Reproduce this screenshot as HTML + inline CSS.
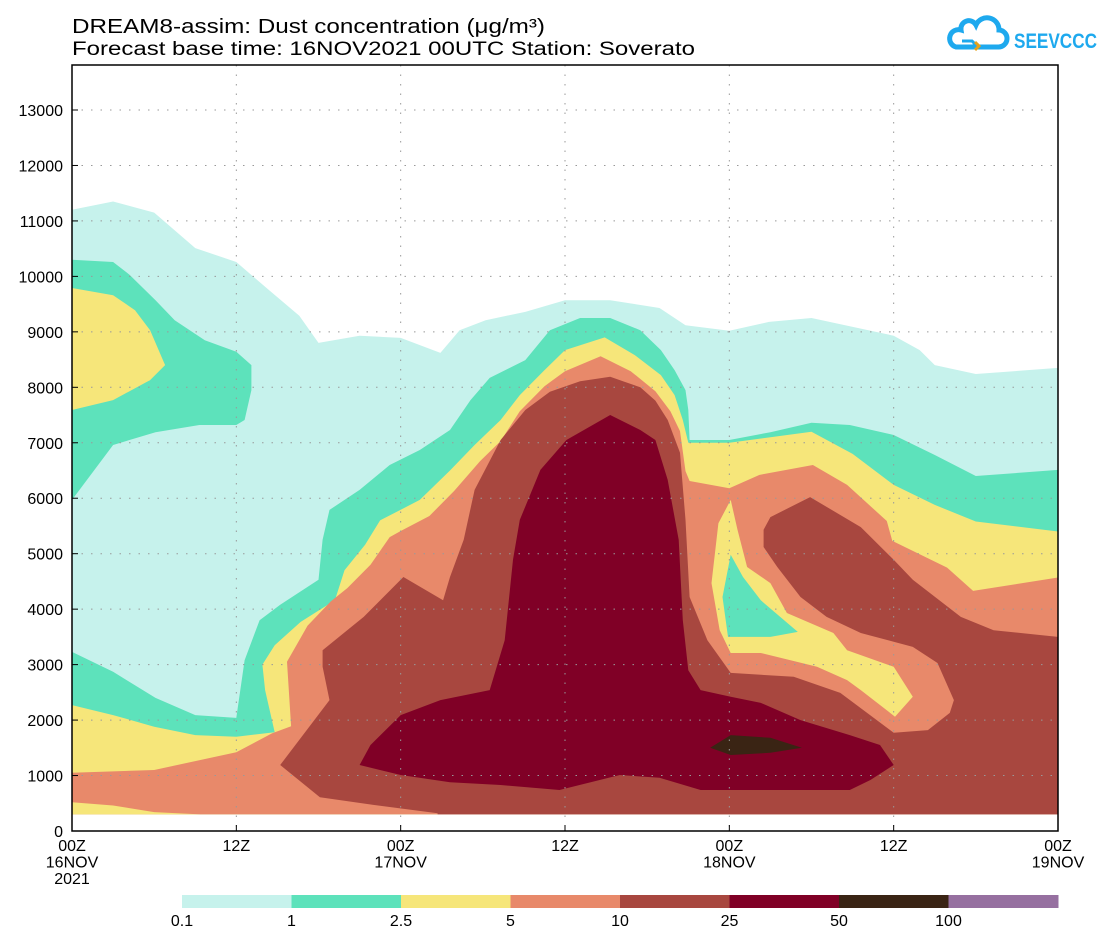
<!DOCTYPE html>
<html><head><meta charset="utf-8"><style>
body{margin:0;background:#fff;width:1112px;height:943px;overflow:hidden;font-family:"Liberation Sans",sans-serif}
svg text{font-family:"Liberation Sans",sans-serif}
</style></head><body>
<svg id="chart" width="1112" height="943" viewBox="0 0 1112 943" xmlns="http://www.w3.org/2000/svg">
<text x="72" y="33" font-size="20" textLength="473" lengthAdjust="spacingAndGlyphs">DREAM8-assim: Dust concentration (μg/m³)</text>
<text x="72" y="55" font-size="19" textLength="623" lengthAdjust="spacingAndGlyphs">Forecast base time: 16NOV2021 00UTC  Station: Soverato</text>
<g>
<path d="M956 47 h42 a8 8 0 0 0 1-17 a12 12 0 0 0-23-5 a8 8 0 0 0-15 5 a8.5 8.5 0 0 0-5 17z" fill="none" stroke="#1ea9ee" stroke-width="5"/>
<path d="M962 41 h10 l3 3 l-3 3" fill="none" stroke="#1ea9ee" stroke-width="3"/>
<path d="M975 42 l4 4 l-4 4" fill="none" stroke="#e6a21c" stroke-width="3"/>
<text x="1014" y="48" font-size="21" font-weight="bold" fill="#1ea9ee" textLength="83" lengthAdjust="spacingAndGlyphs">SEEVCCC</text>
</g>
<g id="fills"></g>
<g id="grid"></g>
<rect x="72" y="65" width="986" height="766" fill="none" stroke="#000" stroke-width="1.5"/>
<g id="axes"></g>
<g id="colorbar"></g>
</svg>
<script>
const levelColors=["#c6f2ec","#5de2bb","#f6e67a","#e8896a","#a8473f","#800026","#3a2414","#9670a0"];
const levelLabels=["0.1","1","2.5","5","10","25","50","100"];
const yTicks=[0,1000,2000,3000,4000,5000,6000,7000,8000,9000,10000,11000,12000,13000];
const xTickHours=[0,12,24,36,48,60,72];
const xTickLabels=[["00Z","16NOV","2021"],["12Z"],["00Z","17NOV"],["12Z"],["00Z","18NOV"],["12Z"],["00Z","19NOV"]];
// polygons in [hour, metres]
const cyanPoly=[[0,300],[0,11200],[3,11350],[6,11150],[9,10510],[12,10260],[14.4,9750],[16.6,9290],[18,8800],[21,8930],[24,8890],[26.9,8620],[28.3,9030],[30.2,9210],[33.1,9360],[36,9570],[39.3,9570],[42.9,9430],[44.8,9120],[48,9020],[50.9,9180],[54,9250],[56.8,9100],[60,8930],[61.9,8670],[63,8400],[66,8240],[72,8350],[72,300]];
const greenA=[[0,10300],[3,10260],[4.2,10030],[6.1,9570],[7.5,9210],[9.7,8850],[12,8640],[13.1,8400],[13.1,7950],[12.6,7410],[12,7320],[9.3,7320],[6.1,7190],[3,6960],[0,5970]];
const yellowA=[[0,9790],[3,9660],[4.6,9390],[5.7,9030],[6.8,8400],[5.7,8130],[3,7770],[0,7590]];
const greenB=[[0,300],[0,3230],[3,2870],[6.1,2400],[9,2090],[12,2040],[12.6,3080],[13.7,3800],[15.2,4080],[18,4530],[18.3,5250],[18.8,5790],[21,6150],[23.2,6600],[25.4,6870],[27.6,7230],[29.1,7770],[30.5,8170],[33.1,8490],[34.9,9030],[37.1,9250],[39.3,9250],[41.5,9030],[43,8670],[44,8310],[44.8,7950],[45,7590],[45.1,7050],[48,7050],[51,7190],[54,7360],[56.8,7320],[60,7140],[63,6780],[66,6400],[72,6510],[72,300]];
const yellowB=[[0,300],[0,2270],[3,2090],[6,1880],[9,1730],[12,1700],[14.8,1780],[14.1,2540],[13.9,3000],[14.8,3350],[16.7,3770],[19.2,4160],[19.9,4700],[21.4,5160],[22.5,5600],[25.4,5970],[27.6,6500],[29.4,6960],[31.3,7410],[32.7,7860],[34.5,8310],[36,8670],[38.9,8900],[41.1,8580],[43,8220],[44,7860],[44.6,7410],[45,7000],[48,7000],[54,7200],[57,6800],[60,6240],[63,5880],[66,5580],[72,5400],[72,300]];
const orangeA=[[0,300],[0,1050],[6,1100],[12,1420],[14.6,1760],[16,1890],[15.7,3050],[17.2,3700],[18.9,4140],[20.1,4380],[21.8,4800],[23.2,5300],[24,5410],[26.1,5680],[27.9,6130],[29.8,6670],[31.3,7030],[32.7,7570],[34.5,8020],[36,8290],[38.6,8560],[40.8,8290],[42.6,7930],[43.7,7570],[44.4,7210],[44.8,6490],[45.1,6310],[48,6180],[50.2,6420],[54.1,6600],[56.6,6240],[59.5,5590],[59.9,5230],[63.9,4750],[65.8,4330],[72,4570],[72,300]];
const yellowLow=[[0,300],[0,520],[3,460],[6,340],[9.4,300]];
const yellowLoop=[[48.1,5970],[48.6,5430],[49.3,4760],[51,4470],[52.2,3930],[55.6,3570],[56.6,3260],[60,2960],[61.4,2420],[60.1,2060],[57.6,2540],[56.6,2720],[54.4,2960],[50.3,3210],[48.1,3210],[47.3,3620],[46.7,4470],[47.2,5550]];
const greenSpot=[[48.1,4980],[49,4580],[50.3,4160],[53,3590],[51,3500],[47.9,3500],[47.5,4220]];
const rustA=[[15.2,1190],[18.1,610],[22,470],[26.7,320],[26.7,300],[72,300],[72,3500],[67.3,3620],[64.9,3860],[61.4,4530],[60,4890],[57.6,5480],[53.9,6020],[51,5660],[50.5,5430],[50.5,5120],[51.5,4760],[53.2,4220],[55.1,3860],[57.6,3570],[61.4,3320],[63.2,3030],[64.4,2360],[64.1,2130],[62.5,1820],[60,1770],[56.1,2490],[52.7,2780],[48.1,2850],[46.4,3440],[45.1,4220],[44.8,5610],[44.4,6820],[43.5,7410],[42.6,7760],[41.5,8000],[39.3,8190],[37.1,8110],[34.9,7920],[33.1,7590],[31.3,7050],[29.4,6150],[28.6,5250],[27.6,4580],[27.1,4160],[24.2,4580],[21.3,3860],[18.3,3260],[18.3,2960],[18.8,2360]];
const darkA=[[39.3,7500],[36.1,7050],[34.2,6510],[32.7,5610],[32.2,4890],[31.6,3440],[30.5,2540],[26.9,2360],[24,2090],[21.8,1550],[21,1190],[24,1010],[27.6,880],[31.3,830],[35.6,740],[40,1010],[42.9,960],[45.9,740],[51.7,740],[56.8,740],[58.3,920],[60,1190],[59,1550],[56.8,1730],[53.2,2000],[50.3,2310],[48.1,2420],[45.9,2540],[45,2900],[44.6,3800],[44.3,5250],[43.5,6330],[42.6,7050],[41.5,7230]];
const brownA=[[46.6,1500],[48.1,1730],[51,1680],[53.3,1500],[51,1410],[48.1,1370]];
const shapes=[[cyanPoly,0,"cyan-region"],[greenA,1,"green-region-upper"],[yellowA,2,"yellow-region-upper"],[greenB,1,"green-region-main"],[yellowB,2,"yellow-region-main"],[orangeA,3,"orange-region"],[yellowLow,2,"yellow-region-low"],[yellowLoop,2,"yellow-region-loop"],[greenSpot,1,"green-region-spot"],[rustA,4,"rust-region"],[darkA,5,"darkred-region"],[brownA,6,"brown-region"]];

const NS="http://www.w3.org/2000/svg";
const X0=72,X1=1058,Y0=831,Y13=110;
const xs=h=>X0+h*(X1-X0)/72;
const ys=m=>Y0-m*(Y0-Y13)/13000;
function mk(tag,attrs,parent){const e=document.createElementNS(NS,tag);for(const k in attrs)e.setAttribute(k,attrs[k]);parent.appendChild(e);return e;}
const fills=document.getElementById('fills');
shapes.forEach(s=>{
  const p=mk('polygon',{points:s[0].map(q=>xs(q[0]).toFixed(1)+','+ys(q[1]).toFixed(1)).join(' '),fill:levelColors[s[1]]},fills);
  
  
});
const grid=document.getElementById('grid'),axes=document.getElementById('axes');
yTicks.forEach(v=>{
  const y=ys(v);
  if(v>0){const g=mk('line',{x1:X0,x2:X1,y1:y,y2:y,stroke:'#999','stroke-width':1,'stroke-dasharray':'1.5,8'},grid);
  
  }
  const t=mk('line',{x1:X0,x2:X0+6,y1:y,y2:y,stroke:'#000','stroke-width':1},axes);
  
  
  const lb=mk('text',{x:63,y:y+6,'font-size':16,'text-anchor':'end'},axes);
  lb.textContent=v;
  
  
});
xTickHours.forEach((h,i)=>{
  const x=xs(h);
  if(h>0&&h<72){const g=mk('line',{x1:x,x2:x,y1:65,y2:Y0,stroke:'#999','stroke-width':1,'stroke-dasharray':'1.5,8'},grid);
  
  }
  const t=mk('line',{x1:x,x2:x,y1:Y0,y2:Y0-6,stroke:'#000','stroke-width':1},axes);
  
  
  xTickLabels[i].forEach((s,j)=>{
    const lb=mk('text',{x:x,y:851+j*16.5,'font-size':16,'text-anchor':'middle'},axes);
    lb.textContent=s;
    
    
  });
});
const cb=document.getElementById('colorbar');
const cbX0=182,cbW=(1058-182)/levelColors.length;
levelColors.forEach((c,i)=>{
  const r=mk('rect',{x:cbX0+i*cbW,y:895,width:cbW+0.5,height:13,fill:c},cb);
  
  
  const lb=mk('text',{x:cbX0+i*cbW,y:926,'font-size':16,'text-anchor':'middle'},cb);
  lb.textContent=levelLabels[i];
  
  
});
</script>
</body></html>
